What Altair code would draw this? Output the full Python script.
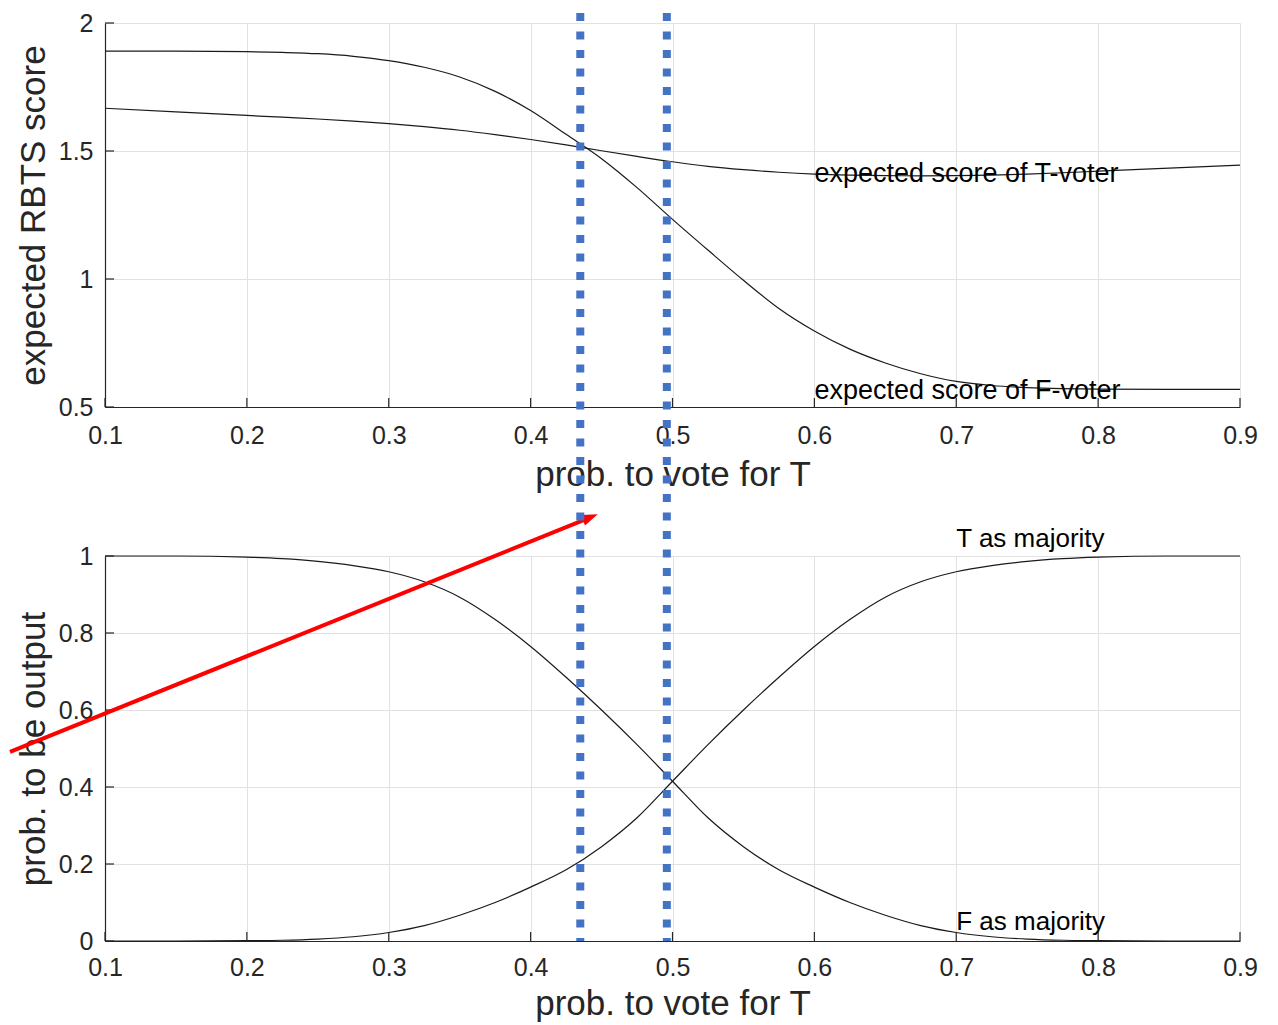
import altair as alt
import pandas as pd

# ---------------- data ----------------
x_vals = [0.1, 0.15, 0.2, 0.225, 0.25, 0.275, 0.3, 0.325, 0.35, 0.375, 0.4, 0.425,
          0.45, 0.475, 0.5, 0.525, 0.55, 0.575, 0.6, 0.625, 0.65, 0.675, 0.7, 0.725,
          0.75, 0.775, 0.8, 0.85, 0.9]

score_T_voter = [1.667, 1.653, 1.639, 1.632, 1.625, 1.617, 1.607, 1.595, 1.581, 1.564,
                 1.545, 1.524, 1.501, 1.479, 1.458, 1.440, 1.427, 1.417, 1.410, 1.406,
                 1.404, 1.403, 1.404, 1.406, 1.410, 1.415, 1.421, 1.433, 1.445]
score_F_voter = [1.890, 1.890, 1.888, 1.885, 1.880, 1.870, 1.853, 1.827, 1.789, 1.733,
                 1.658, 1.565, 1.470, 1.357, 1.233, 1.113, 0.995, 0.885, 0.797, 0.726,
                 0.672, 0.630, 0.600, 0.584, 0.576, 0.572, 0.570, 0.569, 0.569]

prob_T_majority = [0.0, 0.0, 0.001, 0.002, 0.005, 0.011, 0.022, 0.040, 0.067, 0.100,
                   0.140, 0.185, 0.245, 0.320, 0.415, 0.510, 0.600, 0.685, 0.765, 0.835,
                   0.893, 0.933, 0.959, 0.975, 0.986, 0.993, 0.997, 1.0, 1.0]
prob_F_majority = [1.0, 1.0, 0.997, 0.993, 0.986, 0.975, 0.959, 0.933, 0.893, 0.835,
                   0.765, 0.685, 0.600, 0.510, 0.415, 0.320, 0.245, 0.185, 0.140, 0.100,
                   0.067, 0.040, 0.022, 0.011, 0.005, 0.002, 0.001, 0.0, 0.0]

x_ticks = [0.1, 0.2, 0.3, 0.4, 0.5, 0.6, 0.7, 0.8, 0.9]
top_y_ticks = [0.5, 1, 1.5, 2]
bottom_y_ticks = [0, 0.2, 0.4, 0.6, 0.8, 1]

top_labels = ["expected score of T-voter", "expected score of F-voter"]
top_label_x = [0.6, 0.6]
top_label_y = [1.41, 0.5625]

bottom_labels = ["T as majority", "F as majority"]
bottom_label_x = [0.7, 0.7]
bottom_label_y = [1.044, 0.05]

# dotted vertical markers (lower panel's coordinates, spanning both panels)
marker_x = [0.435, 0.496]
marker_y_top = [2.4104, 2.4104]
marker_y_bottom = [0.0, 0.0]

# red arrow (lower panel coordinates)
arrow_x = [0.03304, 0.4421]
arrow_y = [0.4910, 1.1005]
arrow_head_x = [0.4421]
arrow_head_y = [1.1005]

# ---------------- styling ----------------
FONT = "Liberation Sans"
DARK = "#262626"
GRID = "#e2e2e2"
W = 1135
H_TOP = 384
H_BOT = 385
XDOM = [0.1, 0.9]


def make_axes(yticks, ytitle, label_pad_x, title_pad_x, title_pad_y):
    xa = alt.Axis(values=x_ticks, format=".1f", ticks=False, grid=True,
                  gridColor=GRID, gridWidth=1, domainColor=DARK, domainWidth=1.2,
                  labelFont=FONT, labelFontSize=25, labelColor=DARK,
                  labelPadding=label_pad_x, labelFlush=False, labelOverlap=False,
                  title="prob. to vote for T", titleFont=FONT, titleFontSize=35,
                  titleFontWeight="normal", titleColor=DARK, titlePadding=title_pad_x)
    ya = alt.Axis(values=yticks, labelExpr="datum.value", ticks=False, grid=True,
                  gridColor=GRID, gridWidth=1, domainColor=DARK, domainWidth=1.2,
                  labelFont=FONT, labelFontSize=25, labelColor=DARK, labelPadding=12,
                  labelOverlap=False, labelFlush=False,
                  title=ytitle, titleFont=FONT, titleFontSize=35,
                  titleFontWeight="normal", titleColor=DARK, titlePadding=title_pad_y)
    return xa, ya


def panel(series_a, series_b, ydom, yticks, ytitle, labels, lx, ly, height,
          label_pad_x, title_pad_x, title_pad_y, text_size, with_extras=False):
    xa, ya = make_axes(yticks, ytitle, label_pad_x, title_pad_x, title_pad_y)
    X = lambda f="x:Q": alt.X(f, scale=alt.Scale(domain=XDOM, nice=False, zero=False), axis=xa)
    Y = lambda f="y:Q": alt.Y(f, scale=alt.Scale(domain=ydom, nice=False, zero=False), axis=ya)

    curves = pd.DataFrame({
        "x": x_vals * 2,
        "y": series_a + series_b,
        "s": ["a"] * len(x_vals) + ["b"] * len(x_vals),
    })
    lines = alt.Chart(curves).mark_line(color="#1a1a1a", strokeWidth=1.2,
                                         interpolate="monotone").encode(
        x=X(), y=Y(), detail="s:N")
    txt = alt.Chart(pd.DataFrame({"x": lx, "y": ly, "t": labels})).mark_text(
        align="left", baseline="middle", font=FONT, fontSize=text_size, color="#000000"
    ).encode(x=X(), y=Y(), text="t:N")
    xt = alt.Chart(pd.DataFrame({"x": x_ticks})).mark_rule(color=DARK, strokeWidth=1.2).encode(
        x=X(), y=alt.value(height), y2=alt.value(height - 9))
    yt = alt.Chart(pd.DataFrame({"y": yticks})).mark_rule(color=DARK, strokeWidth=1.2).encode(
        y=Y(), x=alt.value(0), x2=alt.value(9))

    layers = [lines, txt, xt, yt]
    if with_extras:
        arrow = alt.Chart(pd.DataFrame({"x": arrow_x, "y": arrow_y})).mark_line(
            color="#ff0000", strokeWidth=4, strokeCap="butt", strokeJoin="round"
        ).encode(x=X(), y=Y())
        head = alt.Chart(pd.DataFrame({"x": arrow_head_x, "y": arrow_head_y})).mark_point(
            shape="M1,0L-1,-0.7L-1,0.7Z", filled=True, size=256, angle=338,
            color="#ff0000", opacity=1, strokeWidth=0
        ).encode(x=X(), y=Y())
        markers = alt.Chart(pd.DataFrame({"x": marker_x, "y": marker_y_top,
                                          "y2": marker_y_bottom})).mark_rule(
            color="#4472C4", strokeWidth=8, strokeDash=[8, 10.5], strokeCap="butt"
        ).encode(x=X(), y=Y(), y2="y2:Q")
        layers += [arrow, head, markers]
    return alt.layer(*layers).properties(width=W, height=height)


top = panel(score_T_voter, score_F_voter, [0.5, 2], top_y_ticks, "expected RBTS score",
            top_labels, top_label_x, top_label_y, H_TOP, 16, 9, 7, 27)
bottom = panel(prob_T_majority, prob_F_majority, [0, 1], bottom_y_ticks, "prob. to be output",
               bottom_labels, bottom_label_x, bottom_label_y, H_BOT, 14, 6, 7, 26,
               with_extras=True)

chart = alt.vconcat(top, bottom, spacing=149, bounds="flush").configure_view(
    stroke=None
).properties(padding={"left": 0, "top": 0, "right": 5, "bottom": 5}, background="white")

chart.save("out.html", embed_options={"renderer": "svg", "actions": False})
